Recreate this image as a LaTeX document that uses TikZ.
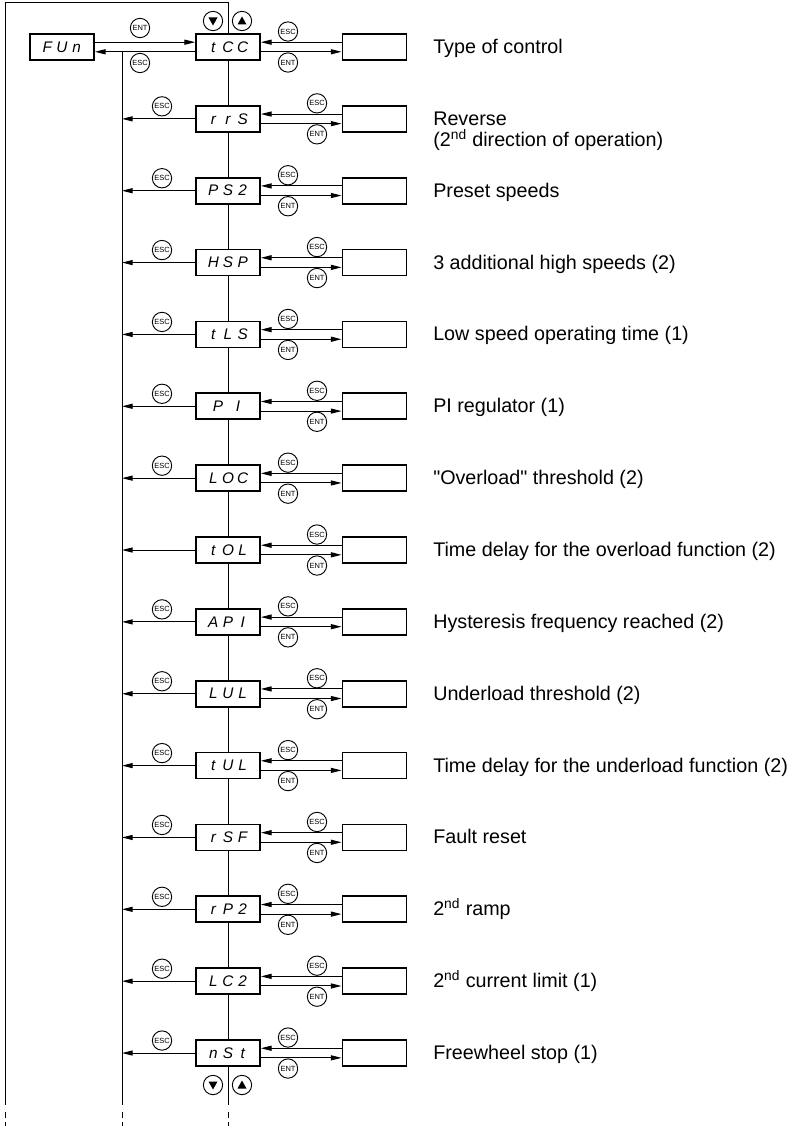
\documentclass[tikz,border=0pt]{standalone}
\usepackage{fontspec}
\setmainfont{Liberation Sans}
\usetikzlibrary{arrows.meta,positioning}
\newcommand{\seg}[3]{\makebox[11pt]{#1}\makebox[11pt]{#2}\makebox[11pt]{#3}}
\tikzset{
    dispbox/.style={draw, line width=1.3pt, minimum width=48pt, minimum height=19.5pt, inner sep=0pt, font=\fontsize{11.5}{12}\selectfont\itshape},
    valbox/.style={draw, line width=1.3pt, minimum width=48pt, minimum height=19.5pt, inner sep=0pt},
    keyring/.style={draw, circle, line width=0.7pt, minimum size=14.5pt, inner sep=0pt, font=\fontsize{5.6}{6}\selectfont},
    keyup/.style={keyring, path picture={\fill[shift={(path picture bounding box.center)}] (0,-4.5) -- (4.5,3.5) -- (-4.5,3.5) -- cycle;}},
    keydown/.style={keyring, path picture={\fill[shift={(path picture bounding box.center)}] (0,4.5) -- (4.5,-3.5) -- (-4.5,-3.5) -- cycle;}},
    navarrow/.style={-{Triangle[length=8pt,width=3.8pt]}, line width=0.75pt},
    plainline/.style={line width=0.75pt},
    tailline/.style={line width=0.75pt, dash pattern=on 4.5pt off 3pt},
    desc/.style={anchor=base west, align=left, inner sep=0pt, font=\fontsize{14.8}{15.8}\selectfont}
}
\begin{document}
\begin{tikzpicture}[x=0.75pt, y=-0.75pt]
    \useasboundingbox (0,0) rectangle (794,1126);
    \node[dispbox] (fun) at (62,47) {\seg FUn};
    \coordinate (frtl) at (5,3);
    \coordinate (frbl) at (5,1105);
    \coordinate (esctop) at (122,52);
    \coordinate (escbot) at (122,1105);
    \coordinate (ctrbot) at (228,1105);

    \foreach \i/\disp/\dy/\desc in {
        0/{\seg tCC}/0/{Type of control},
        1/{\seg rrS}/21/{Reverse\\(2\textsuperscript{nd} direction of operation)},
        2/{\seg PS2}/0/{Preset speeds},
        3/{\seg HSP}/0/{3 additional high speeds (2)},
        4/{\seg tLS}/0/{Low speed operating time (1)},
        5/{\makebox[11pt]{P}\hspace{4pt}\makebox[11pt]{I}}/0/{PI regulator (1)},
        6/{\seg LOC}/0/{\textquotedbl Overload\textquotedbl\ threshold (2)},
        7/{\seg tOL}/0/{Time delay for the overload function (2)},
        8/{\seg API}/0/{Hysteresis frequency reached (2)},
        9/{\seg LUL}/0/{Underload threshold (2)},
        10/{\seg tUL}/0/{Time delay for the underload function (2)},
        11/{\seg rSF}/0/{Fault reset},
        12/{\seg rP2}/0/{2\textsuperscript{nd} ramp},
        13/{\seg LC2}/0/{2\textsuperscript{nd} current limit (1)},
        14/{\seg nSt}/0/{Freewheel stop (1)}}{
        \pgfmathsetmacro\ry{47+71.86*\i}
        \pgfmathsetmacro\cx{288+29*mod(\i,2)}
        \node[dispbox] (seg\i) at (228,\ry) {\disp};
        \node[valbox, right=60.5pt of seg\i] (val\i) {};
        \node[desc] (lbl\i) at (433,{\ry+6.5+\dy}) {\desc};
        \draw[navarrow] ([yshift=3.6pt]val\i.west) -- ([yshift=3.6pt]seg\i.east);
        \draw[navarrow] ([yshift=-3.6pt]seg\i.east) -- ([yshift=-3.6pt]val\i.west);
        \node[keyring] (resc\i) at (\cx,{\ry-15.5}) {ESC};
        \node[keyring] (rent\i) at (\cx,{\ry+15.5}) {ENT};
        \ifnum\i>0
            \pgfmathtruncatemacro\prev{\i-1}
            \draw[plainline] (seg\prev.south) -- (seg\i.north);
            \draw[navarrow] (seg\i.west) -- (seg\i.west -| esctop);
            \ifnum\i=7\else
                \node[keyring] (lesc\i) at (162,{\ry-12.5}) {ESC};
            \fi
        \fi
    }

    \draw[navarrow] ([yshift=3.6pt]fun.east) -- ([yshift=3.6pt]seg0.west);
    \draw[navarrow] ([yshift=-3.6pt]seg0.west) -- ([yshift=-3.6pt]fun.east);
    \node[keyring] (ent0) at (140,28) {ENT};
    \node[keyring] (esc0) at (140,63) {ESC};
    \node[keydown] (kdn0) at (213,21) {};
    \node[keyup] (kup0) at (242,21) {};
    \node[keydown] (kdn1) at (213,1085) {};
    \node[keyup] (kup1) at (242,1085) {};

    \draw[plainline] (seg0.north) |- (frtl) -- (frbl);
    \draw[plainline] (esctop) -- (escbot);
    \draw[plainline] (seg14.south) -- (ctrbot);
    \foreach \c in {frbl,escbot,ctrbot}
        \draw[tailline] (\c) ++(0,7) -- ++(0,14);
\end{tikzpicture}
\end{document}
